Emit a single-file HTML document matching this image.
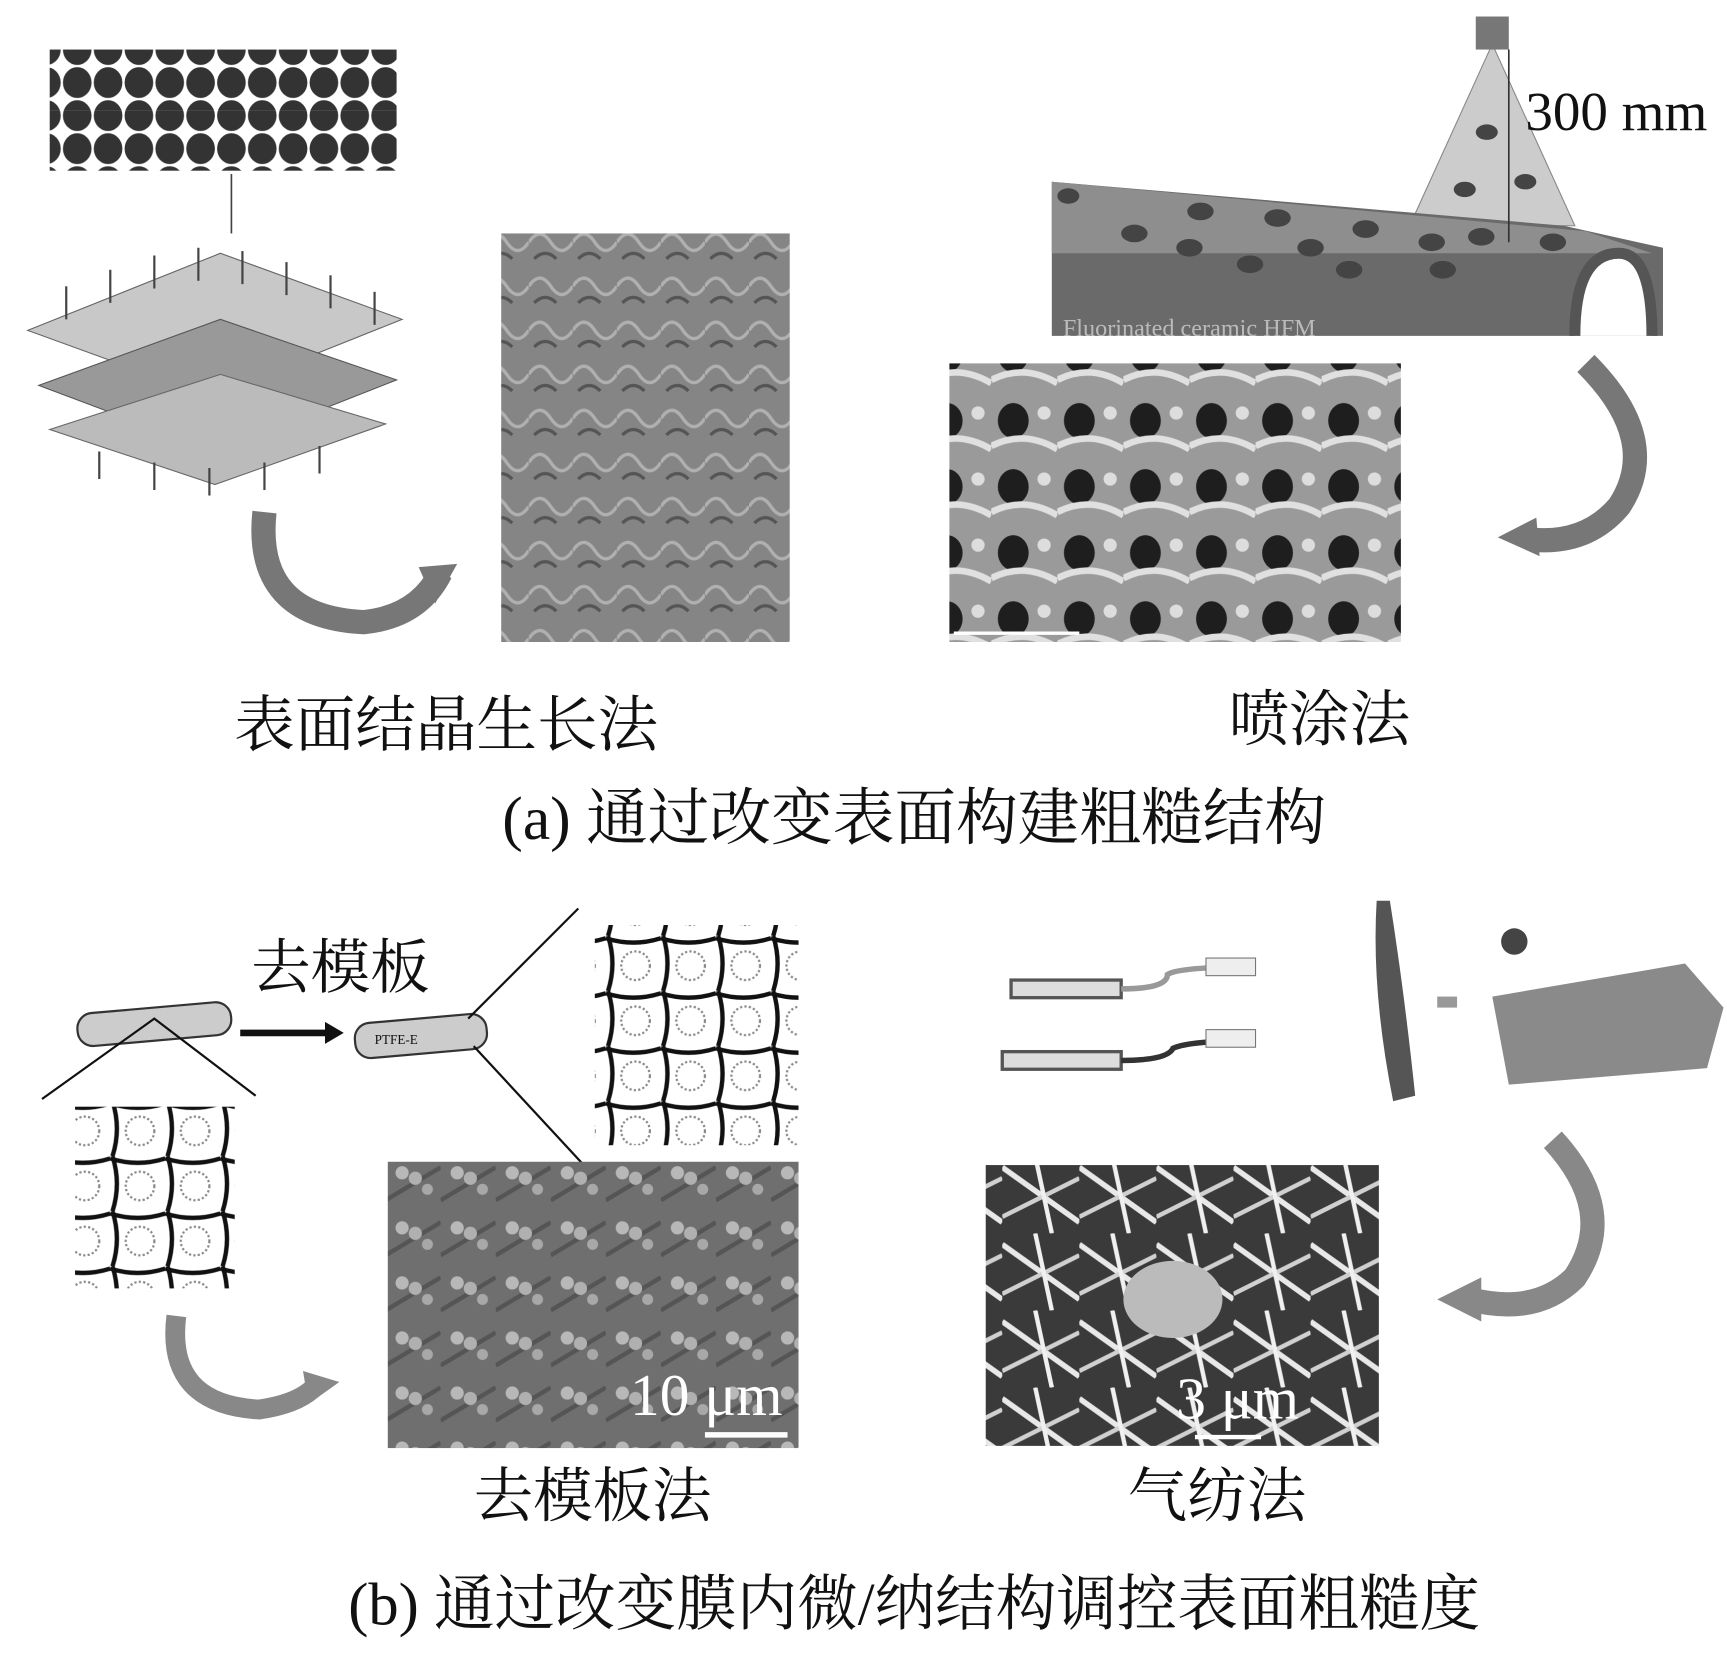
<!DOCTYPE html>
<html><head><meta charset="utf-8"><style>
html,body{margin:0;padding:0;background:#fff;}
svg{display:block}
text{font-family:"Liberation Serif","Noto Serif CJK SC","Noto Sans CJK SC",serif;fill:#111}
</style></head><body>
<svg width="1727" height="1654" viewBox="0 0 1568 1502" xmlns="http://www.w3.org/2000/svg">
<defs>
<pattern id="sem1" width="40" height="40" patternUnits="userSpaceOnUse">
<rect width="40" height="40" fill="#858585"/>
<path d="M0 20 Q10 5 20 20 T40 20" stroke="#b0b0b0" stroke-width="3" fill="none"/>
<path d="M5 35 Q15 25 25 35" stroke="#555" stroke-width="3" fill="none"/>
</pattern>
<pattern id="sem2" width="60" height="60" patternUnits="userSpaceOnUse">
<rect width="60" height="60" fill="#9a9a9a"/>
<ellipse cx="20" cy="22" rx="14" ry="16" fill="#1e1e1e"/>
<path d="M0 45 Q30 30 60 48" stroke="#e0e0e0" stroke-width="6" fill="none"/>
<circle cx="48" cy="15" r="6" fill="#ddd"/>
</pattern>
<pattern id="sem3" width="50" height="50" patternUnits="userSpaceOnUse">
<rect width="50" height="50" fill="#6f6f6f"/>
<path d="M0 40 L50 10" stroke="#555" stroke-width="4"/>
<circle cx="15" cy="15" r="6" fill="#b8b8b8"/><circle cx="27" cy="20" r="6" fill="#b0b0b0"/>
<circle cx="38" cy="30" r="5" fill="#a8a8a8"/>
</pattern>
<pattern id="sem4" width="70" height="70" patternUnits="userSpaceOnUse">
<rect width="70" height="70" fill="#3a3a3a"/>
<path d="M0 10 L70 60" stroke="#e8e8e8" stroke-width="5"/>
<path d="M0 55 L70 20" stroke="#d0d0d0" stroke-width="4"/>
<path d="M30 0 L45 70" stroke="#f0f0f0" stroke-width="4"/>
</pattern>
<pattern id="net" width="50" height="50" patternUnits="userSpaceOnUse">
<rect width="50" height="50" fill="#fff"/>
<path d="M0 2 Q25 10 50 2 M2 0 Q10 25 2 50" stroke="#111" stroke-width="4" fill="none"/>
<circle cx="27" cy="27" r="13" fill="none" stroke="#888" stroke-width="2" stroke-dasharray="2 2"/>
</pattern>
<pattern id="helix" width="28" height="30" patternUnits="userSpaceOnUse">
<rect width="28" height="30" fill="#fff"/>
<ellipse cx="14" cy="15" rx="13" ry="14" fill="#333"/>
</pattern>
</defs>

<rect x="45" y="45" width="315" height="55" fill="url(#helix)"/>
<rect x="45" y="100" width="315" height="55" fill="url(#helix)"/>
<line x1="210" y1="158" x2="210" y2="212" stroke="#444" stroke-width="1.5"/>
<polygon points="25,300 200,230 365,290 190,360" fill="#c8c8c8" stroke="#666"/>
<polygon points="35,350 200,290 360,345 195,410" fill="#999" stroke="#555"/>
<polygon points="45,390 200,340 350,385 195,440" fill="#bbb" stroke="#666"/>
<g stroke="#444" stroke-width="2">
<line x1="60" y1="260" x2="60" y2="290"/><line x1="100" y1="245" x2="100" y2="275"/><line x1="140" y1="232" x2="140" y2="262"/><line x1="180" y1="225" x2="180" y2="255"/><line x1="220" y1="228" x2="220" y2="258"/><line x1="260" y1="238" x2="260" y2="268"/><line x1="300" y1="250" x2="300" y2="280"/><line x1="340" y1="265" x2="340" y2="295"/>
<line x1="90" y1="410" x2="90" y2="435"/><line x1="140" y1="420" x2="140" y2="445"/><line x1="190" y1="425" x2="190" y2="450"/><line x1="240" y1="420" x2="240" y2="445"/><line x1="290" y1="405" x2="290" y2="430"/>
</g>
<path d="M240 465 Q230 560 330 565 Q380 560 400 520" stroke="#777" stroke-width="22" fill="none"/>
<polygon points="380,515 415,512 395,548" fill="#777"/>
<rect x="455" y="212" width="262" height="371" fill="url(#sem1)"/>

<polygon points="1355,40 1280,205 1430,205" fill="#ccc" stroke="#888"/>
<rect x="1340" y="15" width="30" height="30" fill="#777"/>
<polygon points="955,165 1420,205 1510,225 1510,305 955,305" fill="#6a6a6a"/>
<polygon points="955,165 1440,210 1500,230 955,230" fill="#8e8e8e"/>
<path d="M1430 305 Q1430 230 1470 230 Q1500 230 1500 305" fill="#fff" stroke="#555" stroke-width="10"/>
<g fill="#444"><ellipse cx="970" cy="178" rx="10" ry="7"/><ellipse cx="1030" cy="212" rx="12" ry="8"/><ellipse cx="1090" cy="192" rx="12" ry="8"/><ellipse cx="1160" cy="198" rx="12" ry="8"/><ellipse cx="1240" cy="208" rx="12" ry="8"/><ellipse cx="1300" cy="220" rx="12" ry="8"/><ellipse cx="1080" cy="225" rx="12" ry="8"/><ellipse cx="1135" cy="240" rx="12" ry="8"/><ellipse cx="1190" cy="225" rx="12" ry="8"/><ellipse cx="1225" cy="245" rx="12" ry="8"/><ellipse cx="1310" cy="245" rx="12" ry="8"/><ellipse cx="1345" cy="215" rx="12" ry="8"/><ellipse cx="1410" cy="220" rx="12" ry="8"/><ellipse cx="1350" cy="120" rx="10" ry="7"/><ellipse cx="1385" cy="165" rx="10" ry="7"/><ellipse cx="1330" cy="172" rx="10" ry="7"/></g>
<line x1="1370" y1="45" x2="1370" y2="220" stroke="#333" stroke-width="1.5"/>
<text x="1385" y="118" font-size="50">300 mm</text>
<text x="965" y="305" font-size="22" font-family="Liberation Sans" fill="#bbb" style="fill:#bbb">Fluorinated ceramic HFM</text>
<rect x="862" y="330" width="410" height="253" fill="url(#sem2)"/>
<line x1="866" y1="575" x2="980" y2="575" stroke="#fff" stroke-width="3"/>
<path d="M1440 330 Q1510 400 1470 460 Q1440 495 1390 490" stroke="#777" stroke-width="22" fill="none"/>
<polygon points="1395,470 1360,488 1398,505" fill="#777"/>

<text x="405" y="677" font-size="55" text-anchor="middle">表面结晶生长法</text>
<text x="1198" y="672" font-size="55" text-anchor="middle">喷涂法</text>
<text x="830" y="762" font-size="56" text-anchor="middle">(a) 通过改变表面构建粗糙结构</text>

<text x="228" y="897" font-size="54">去模板</text>
<g transform="rotate(-5 140 930)"><rect x="70" y="915" width="140" height="30" rx="14" fill="#ccc" stroke="#333" stroke-width="2"/></g>
<polyline points="38,998 140,925 232,995" stroke="#111" stroke-width="2" fill="none"/>
<line x1="218" y1="938" x2="298" y2="938" stroke="#111" stroke-width="6"/>
<polygon points="295,928 312,938 295,948" fill="#111"/>
<g transform="rotate(-5 380 940)"><rect x="322" y="925" width="120" height="32" rx="14" fill="#ccc" stroke="#333" stroke-width="2"/></g>
<text x="340" y="948" font-size="12" font-family="Liberation Sans">PTFE-E</text>
<line x1="425" y1="925" x2="525" y2="825" stroke="#111" stroke-width="2"/>
<line x1="430" y1="950" x2="530" y2="1058" stroke="#111" stroke-width="2"/>
<rect x="540" y="840" width="185" height="200" fill="url(#net)"/>
<rect x="68" y="1005" width="145" height="165" fill="url(#net)"/>
<path d="M160 1195 Q150 1275 235 1280 Q270 1275 285 1260" stroke="#888" stroke-width="18" fill="none"/>
<polygon points="275,1245 308,1255 280,1275" fill="#888"/>
<rect x="352" y="1055" width="373" height="260" fill="url(#sem3)"/>
<text x="572" y="1285" font-size="54" style="fill:#fff">10 μm</text>
<line x1="640" y1="1303" x2="715" y2="1303" stroke="#fff" stroke-width="5"/>

<g stroke="#555" stroke-width="3" fill="#ddd">
<rect x="918" y="890" width="100" height="16"/><rect x="910" y="955" width="108" height="16"/>
</g>
<path d="M1018 898 Q1060 898 1060 885 Q1070 878 1140 878" stroke="#999" stroke-width="5" fill="none"/>
<path d="M1018 963 Q1060 963 1065 952 Q1080 945 1140 945" stroke="#333" stroke-width="5" fill="none"/>
<rect x="1095" y="870" width="45" height="16" fill="#eee" stroke="#777"/>
<rect x="1095" y="935" width="45" height="16" fill="#eee" stroke="#777"/>
<path d="M1250 818 Q1245 900 1265 1000 L1285 995 Q1275 900 1262 818 Z" fill="#555"/>
<rect x="1305" y="905" width="18" height="10" fill="#999"/>
<circle cx="1375" cy="855" r="12" fill="#444"/>
<polygon points="1355,905 1530,875 1565,915 1550,970 1370,985" fill="#8a8a8a"/>
<path d="M1410 1035 Q1470 1100 1430 1160 Q1395 1195 1335 1180" stroke="#888" stroke-width="22" fill="none"/>
<polygon points="1345,1160 1305,1180 1345,1200" fill="#888"/>
<rect x="895" y="1058" width="357" height="255" fill="url(#sem4)"/>
<ellipse cx="1065" cy="1180" rx="45" ry="35" fill="#bbb"/>
<text x="1068" y="1288" font-size="54" style="fill:#fff">3 μm</text>
<line x1="1085" y1="1305" x2="1145" y2="1305" stroke="#fff" stroke-width="4"/>

<text x="538" y="1377" font-size="54" text-anchor="middle">去模板法</text>
<text x="1105" y="1377" font-size="54" text-anchor="middle">气纺法</text>
<text x="830" y="1475" font-size="55" text-anchor="middle">(b) 通过改变膜内微/纳结构调控表面粗糙度</text>
</svg>
</body></html>
